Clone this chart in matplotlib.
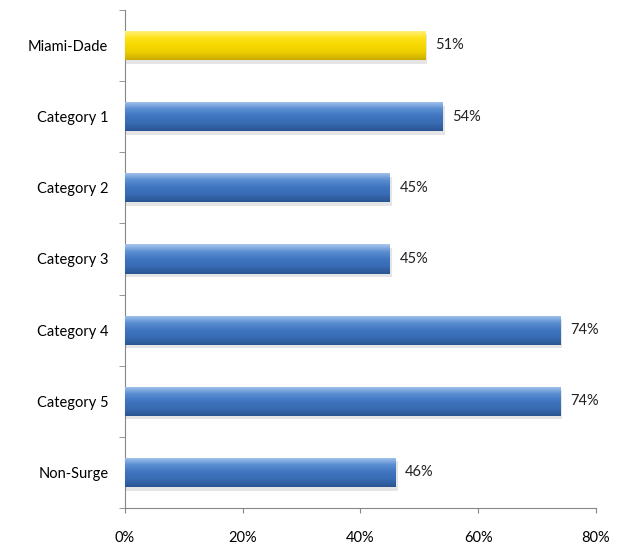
import numpy as np
import matplotlib
matplotlib.use('Agg')
import matplotlib.pyplot as plt
from matplotlib.colors import LinearSegmentedColormap

categories = ["Miami-Dade", "Category 1", "Category 2", "Category 3",
              "Category 4", "Category 5", "Non-Surge"]
values = [51, 54, 45, 45, 74, 74, 46]
highlight = [True, False, False, False, False, False, False]
xticks = [0, 20, 40, 60, 80]

plt.rcParams['font.family'] = ['Lato', 'DejaVu Sans']

fig = plt.figure(figsize=(6.28, 5.48), dpi=100)
ax = fig.add_axes([0.199, 0.073, 0.75, 0.909])

blue = LinearSegmentedColormap.from_list(
    'blue', ['#a9c6ee', '#5b8fd3', '#3f74bf', '#386bb2', '#2a5592'])
yellow = LinearSegmentedColormap.from_list(
    'yellow', ['#fff38a', '#ffe21a', '#f7d900', '#eccd00', '#c9ac00'])

ypos = np.arange(len(categories))
h = 0.41
grad = np.linspace(0, 1, 64).reshape(-1, 1)
for y, v, hl in zip(ypos, values, highlight):
    cmap = yellow if hl else blue
    # soft shadow
    ax.barh(y + 0.05, v + 0.3, height=h, color='#000000', alpha=0.10, zorder=1)
    bar = ax.barh(y, v, height=h, color='none', zorder=2)[0]
    im = ax.imshow(grad, cmap=cmap, aspect='auto', zorder=3,
                   extent=[0, v, y + h / 2, y - h / 2])
    im.set_clip_path(bar)
    ax.text(v + 1.6, y, f"{v}%", va='center', ha='left', fontsize=10.5,
            color='#222222')

ax.set_xlim(0, 80)
ax.set_ylim(len(categories) - 0.5, -0.5)
ax.set_xticks(xticks)
ax.set_xticklabels([f"{t}%" for t in xticks], fontsize=10.5)
ax.set_yticks(ypos)
ax.set_yticklabels(categories, fontsize=10.5)
ax.set_yticks(np.arange(-0.5, len(categories), 1), minor=True)
ax.tick_params(axis='y', which='major', length=0, pad=12)
ax.tick_params(axis='y', which='minor', length=4, color='#868686')
ax.tick_params(axis='x', length=3.5, color='#868686', pad=13)

for s in ['top', 'right']:
    ax.spines[s].set_visible(False)
for s in ['left', 'bottom']:
    ax.spines[s].set_color('#868686')

fig.savefig("out.png", dpi=100)
